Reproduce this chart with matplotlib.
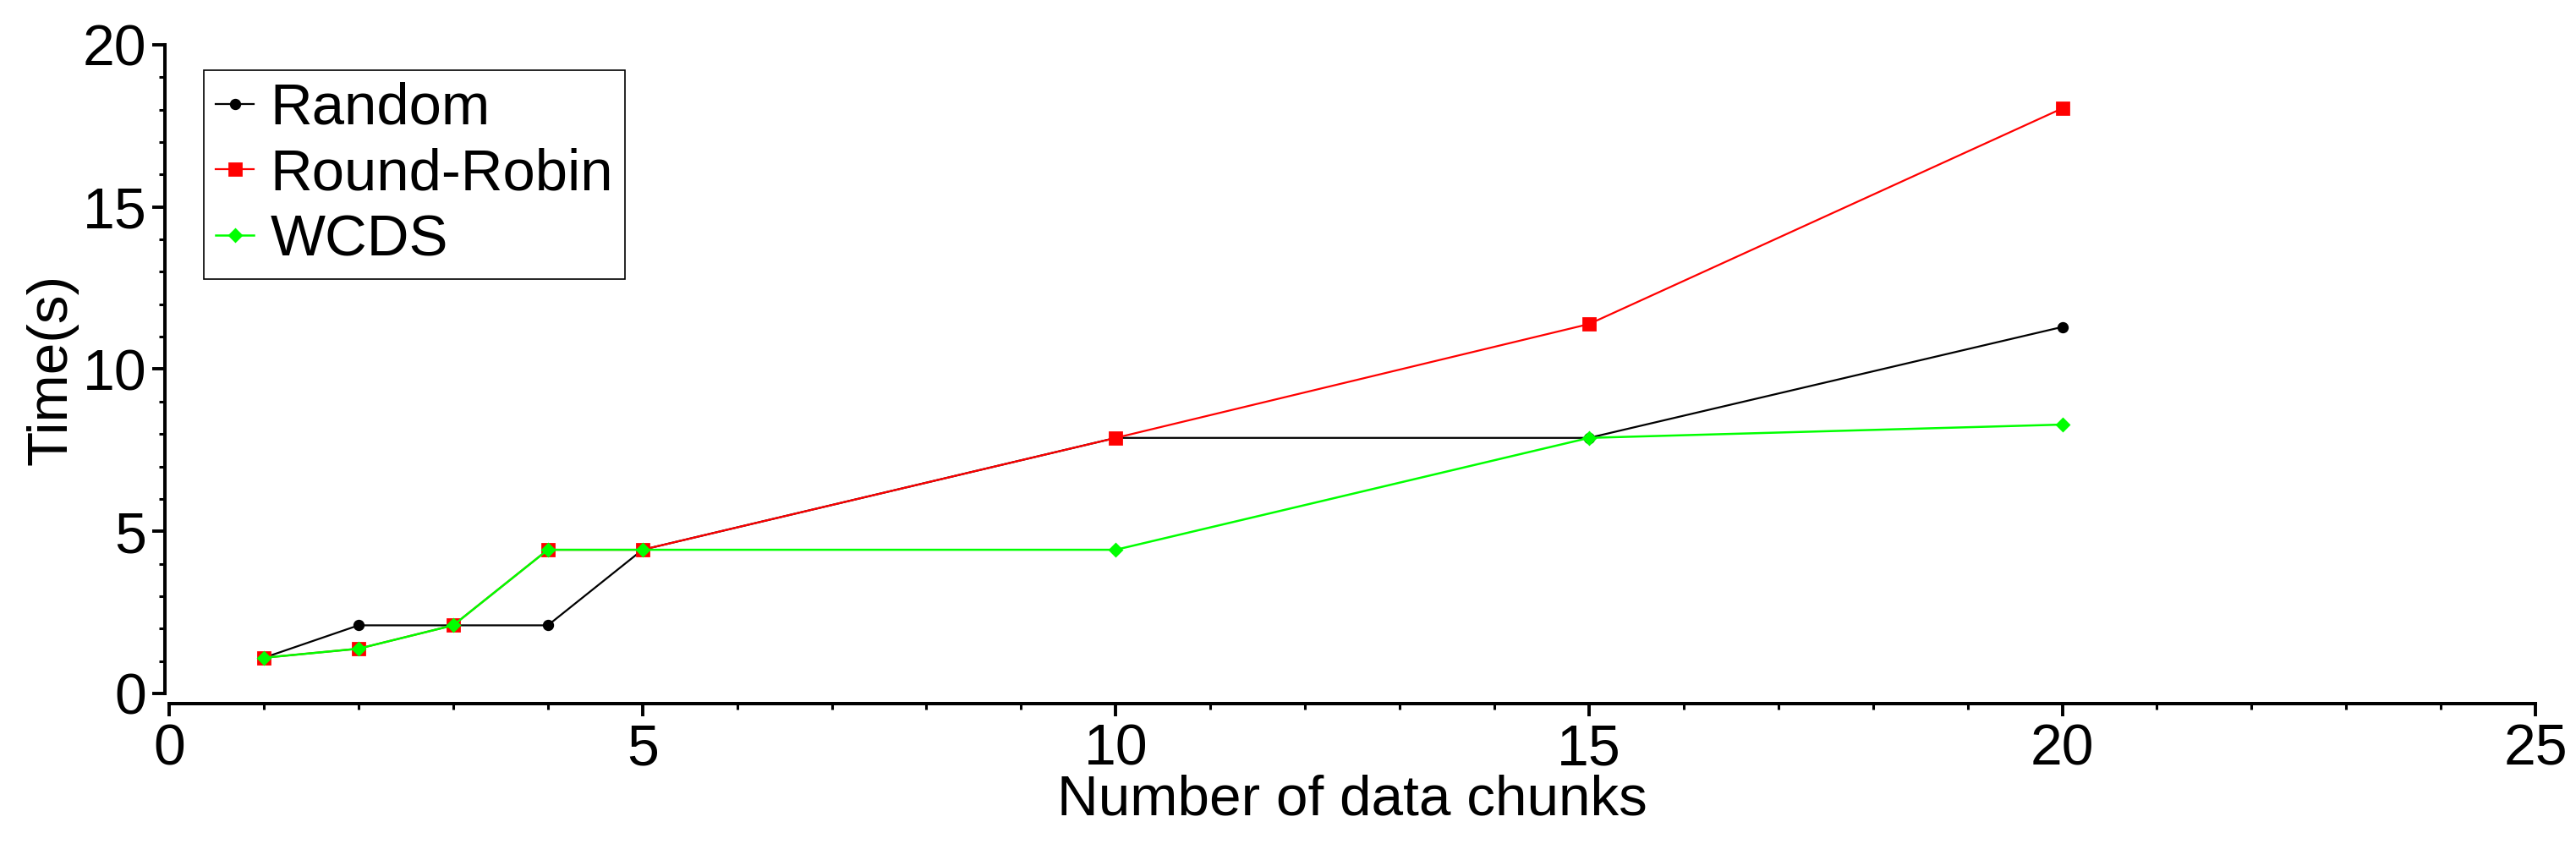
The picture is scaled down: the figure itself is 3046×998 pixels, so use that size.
import matplotlib
matplotlib.use("Agg")
import matplotlib.pyplot as plt
from matplotlib.ticker import MultipleLocator

# values
chunks = [1, 2, 3, 4, 5, 10, 15, 20]
random_t = [1.10, 2.10, 2.10, 2.10, 4.43, 7.88, 7.88, 11.30]
round_robin_t = [1.10, 1.38, 2.10, 4.43, 4.43, 7.88, 11.39, 18.04]
wcds_t = [1.10, 1.38, 2.10, 4.43, 4.43, 4.43, 7.88, 8.29]

plt.rcParams['font.family'] = ['Liberation Sans', 'DejaVu Sans']
plt.rcParams['font.size'] = 24

fig = plt.figure(figsize=(15.23, 4.99), dpi=200)
ax = fig.add_axes([0.0657, 0.1784, 0.9186, 0.7685])

ax.plot(chunks, random_t, color='black', lw=0.8, marker='o', ms=3.8,
        label='Random', clip_on=False)
ax.plot(chunks, round_robin_t, color='#ff0000', lw=0.8, marker='s', ms=4.8,
        label='Round-Robin', clip_on=False)
ax.plot(chunks, wcds_t, color='#00ff00', lw=0.9, marker='D', ms=3.5,
        label='WCDS', clip_on=False)

ax.set_xlim(0, 25)
ax.set_ylim(0, 20)
ax.xaxis.set_major_locator(MultipleLocator(5))
ax.xaxis.set_minor_locator(MultipleLocator(1))
ax.yaxis.set_major_locator(MultipleLocator(5))
ax.yaxis.set_minor_locator(MultipleLocator(1))

for side in ['top', 'right']:
    ax.spines[side].set_visible(False)
ax.spines['bottom'].set_position(('outward', 4.3))
ax.spines['left'].set_position(('outward', 1.8))
for side in ['bottom', 'left']:
    ax.spines[side].set_linewidth(1.45)

ax.tick_params(which='major', direction='out', length=5.4, width=1.4, labelsize=24.5)
ax.tick_params(which='minor', direction='out', length=2.6, width=1.1)
ax.tick_params(axis='y', which='major', pad=2.5)
ax.tick_params(axis='x', which='major', pad=2.9)

ax.set_xlabel('Number of data chunks', fontsize=24.3)
ax.set_ylabel('Time(s)', fontsize=24.3)
ax.xaxis.set_label_coords(0.5, -0.125)
ax.yaxis.set_label_coords(-0.0386, 0.5)

leg = ax.legend(loc='upper left', bbox_to_anchor=(0.0147, 0.961), borderaxespad=0,
                fontsize=24.8, frameon=True, fancybox=False, framealpha=1,
                edgecolor='black', handlelength=0.66, handletextpad=0.28,
                borderpad=0.2, labelspacing=0.2, numpoints=1)
leg.get_frame().set_linewidth(0.6)

fig.savefig('out.png', dpi=200)
